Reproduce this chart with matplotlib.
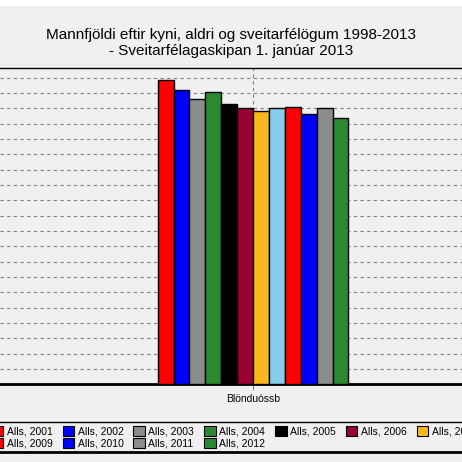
import numpy as np
import matplotlib.pyplot as plt
from matplotlib.patches import Rectangle
from matplotlib.lines import Line2D

plt.rcParams['font.family'] = ['Liberation Sans', 'DejaVu Sans']

# Data (Blönduóssb, all, per year)
years = ['2001', '2002', '2003', '2004', '2005', '2006',
         '2007', '2008', '2009', '2010', '2011', '2012']
values = [991, 959, 929, 952, 914, 900, 890, 900, 903, 882, 900, 867]
colors = ['#ff0000', '#0000ff', '#8c8c8c', '#2b8a2f', '#000000', '#990033',
          '#f9b91c', '#87ceeb', '#ff0000', '#0000ff', '#8c8c8c', '#2b8a2f']
category = 'Blönduóssb'
title = 'Mannfjöldi eftir kyni, aldri og sveitarfélögum 1998-2013\n- Sveitarfélagaskipan 1. janúar 2013'

bg = '#f0f0f0'
fig = plt.figure(figsize=(4.62, 4.62), dpi=100, facecolor=bg)
# white strip at very top
fig.patches.append(Rectangle((0, 1 - 6 / 462), 1, 6 / 462, transform=fig.transFigure,
                             facecolor='white', edgecolor='none', zorder=0))

ax = fig.add_axes([0, (462 - 384.3) / 462, 1, (384.3 - 68) / 462], facecolor=bg)

n = len(years)
group = 0.6
w = group / n
x = (np.arange(n) - (n - 1) / 2) * w
ax.bar(x, values, width=w, color=colors, edgecolor='black', linewidth=1, zorder=3)

ax.set_xlim(-253 / 318, (462 - 253) / 318)
ax.set_ylim(0, 50 * (384.3 - 68) / 15.33)
ax.set_yticks(np.arange(50, 1001, 50))
ax.yaxis.grid(True, linestyle=(0, (3, 3)), color='#808080', linewidth=0.8)
ax.axvline(0, linestyle=(0, (3, 3)), color='#808080', linewidth=0.8, zorder=1)
ax.tick_params(axis='y', length=0, labelleft=False)
ax.set_xticks([0])
ax.set_xticklabels([category], fontsize=7.5)
ax.tick_params(axis='x', length=4, color='#808080', pad=3)
ax.set_axisbelow(True)
for s in ['left', 'right']:
    ax.spines[s].set_visible(False)
ax.spines['top'].set_linewidth(1)
ax.spines['bottom'].set_linewidth(2)

fig.text(0.5, 1 - 43 / 462, title, ha='center', va='center', fontsize=11,
         linespacing=1.2)

# legend
handles = [Rectangle((0, 0), 1, 1, facecolor=c, edgecolor='black', linewidth=0.8)
           for c in colors]
labels = ['Alls, ' + y for y in years]
order = [0, 8, 1, 9, 2, 10, 3, 11, 4, 5, 6, 7]
leg = fig.legend([handles[i] for i in order], [labels[i] for i in order],
                 ncol=8, loc='center', bbox_to_anchor=(270 / 462, 1 - 437 / 462),
                 frameon=False, fontsize=7.5, handlelength=1.1, handleheight=1.1,
                 handletextpad=0.35, columnspacing=0.95, labelspacing=0.15,
                 borderpad=0)
fig.add_artist(Line2D([0, 1], [1 - 422 / 462] * 2, transform=fig.transFigure,
                      color='black', linewidth=1))
fig.add_artist(Line2D([0, 1], [1 - 451.5 / 462] * 2, transform=fig.transFigure,
                      color='black', linewidth=2))

fig.savefig('out.png', dpi=100, facecolor=bg)
